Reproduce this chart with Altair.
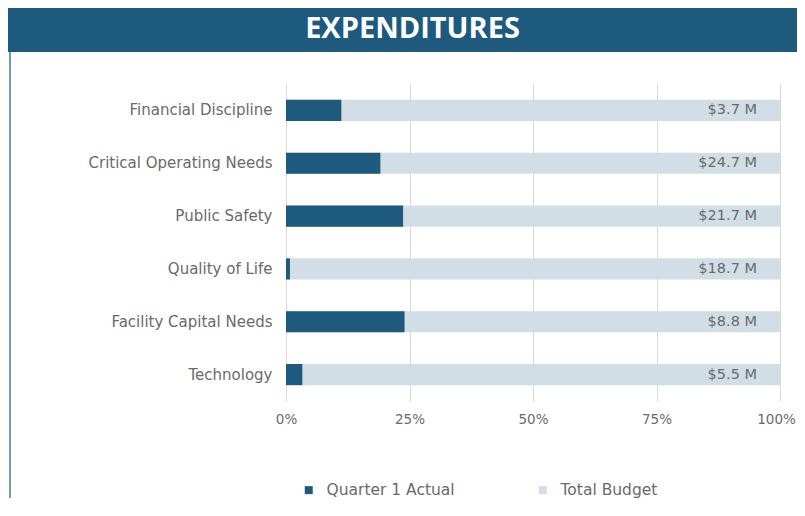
import altair as alt
import pandas as pd

categories = ["Financial Discipline", "Critical Operating Needs", "Public Safety",
              "Quality of Life", "Facility Capital Needs", "Technology"]
actual_pct = [11.2, 19.1, 23.7, 0.8, 24.0, 3.3]
budget_pct = [100, 100, 100, 100, 100, 100]
budget_labels = ["$3.7 M", "$24.7 M", "$21.7 M", "$18.7 M", "$8.8 M", "$5.5 M"]
series = ["Quarter 1 Actual", "Total Budget"]
title_text = ["EXPENDITURES"]
x_ticks = [0, 0.25, 0.5, 0.75, 1.0]

DARK = "#1d5a7e"
LIGHT = "#d2dee6"
TXT = "#6a6a6a"
FONT = "DejaVu Sans"

W, H = 494, 317
PL, PT, PR, PB = 278, 76, 17, 97

budget_df = pd.DataFrame({
    "category": categories,
    "value": [v / 100 for v in budget_pct],
    "series": series[1],
    "label": budget_labels,
})
actual_df = pd.DataFrame({
    "category": categories,
    "value": [v / 100 for v in actual_pct],
    "series": series[0],
})
title_df = pd.DataFrame({"t": title_text})

y_enc = alt.Y("category:N", sort=categories, title=None,
              scale=alt.Scale(paddingInner=0.6, paddingOuter=0.3),
              axis=alt.Axis(domain=False, ticks=False, labelFontSize=15, labelLimit=300,
                            labelColor=TXT, labelPadding=14, labelFont=FONT, grid=False))
x_enc = alt.X("value:Q", title=None, scale=alt.Scale(domain=[0, 1], nice=False),
              axis=alt.Axis(format=".0%", values=x_ticks, domain=False, ticks=False,
                            grid=True, gridColor="#d9d9d9", labelFontSize=13.5,
                            labelColor=TXT, labelPadding=11, labelFont=FONT,
                            labelFlush=False,
                            labelOffset=alt.ExprRef(expr="datum.value >= 1 ? -4 : 0")))
color_enc = alt.Color("series:N",
                      scale=alt.Scale(domain=series, range=[DARK, LIGHT]),
                      legend=alt.Legend(title=None, orient="none", legendX=15, legendY=398,
                                        direction="horizontal", symbolType="square",
                                        symbolSize=64, symbolStrokeWidth=0,
                                        labelFontSize=15.5, labelColor=TXT, labelFont=FONT,
                                        labelOffset=10, columnPadding=80))

budget_bars = alt.Chart(budget_df).mark_bar().encode(y=y_enc, x=x_enc, color=color_enc)
actual_bars = alt.Chart(actual_df).mark_bar().encode(y=y_enc, x=x_enc, color=color_enc)
budget_text = alt.Chart(budget_df).mark_text(
    align="right", baseline="middle", dx=-23, fontSize=14.5, color=TXT, font=FONT
).encode(y=alt.Y("category:N", sort=categories), x="value:Q", text="label:N")

banner = alt.Chart(title_df).mark_rect(color=DARK).encode(
    x=alt.value(-PL), x2=alt.value(W + PR), y=alt.value(-PT), y2=alt.value(-32))
banner_text = alt.Chart(title_df).mark_text(
    color="white", fontSize=29, fontWeight="bold", font="Open Sans",
    align="center", baseline="middle"
).encode(x=alt.value(126.5), y=alt.value(-55), text="t:N")
left_line = alt.Chart(title_df).mark_rule(color="#3f78a3", strokeWidth=1.5).encode(
    x=alt.value(-276), y=alt.value(-32), y2=alt.value(H + PB))

chart = alt.layer(
    budget_bars, actual_bars, budget_text, banner, banner_text, left_line
).properties(
    width=W, height=H,
    autosize=alt.AutoSizeParams(type="none"),
    padding={"left": PL, "top": PT, "right": PR, "bottom": PB},
    background="white",
).configure_view(stroke=None)

chart.save("out.html", embed_options={"renderer": "svg", "actions": False})
